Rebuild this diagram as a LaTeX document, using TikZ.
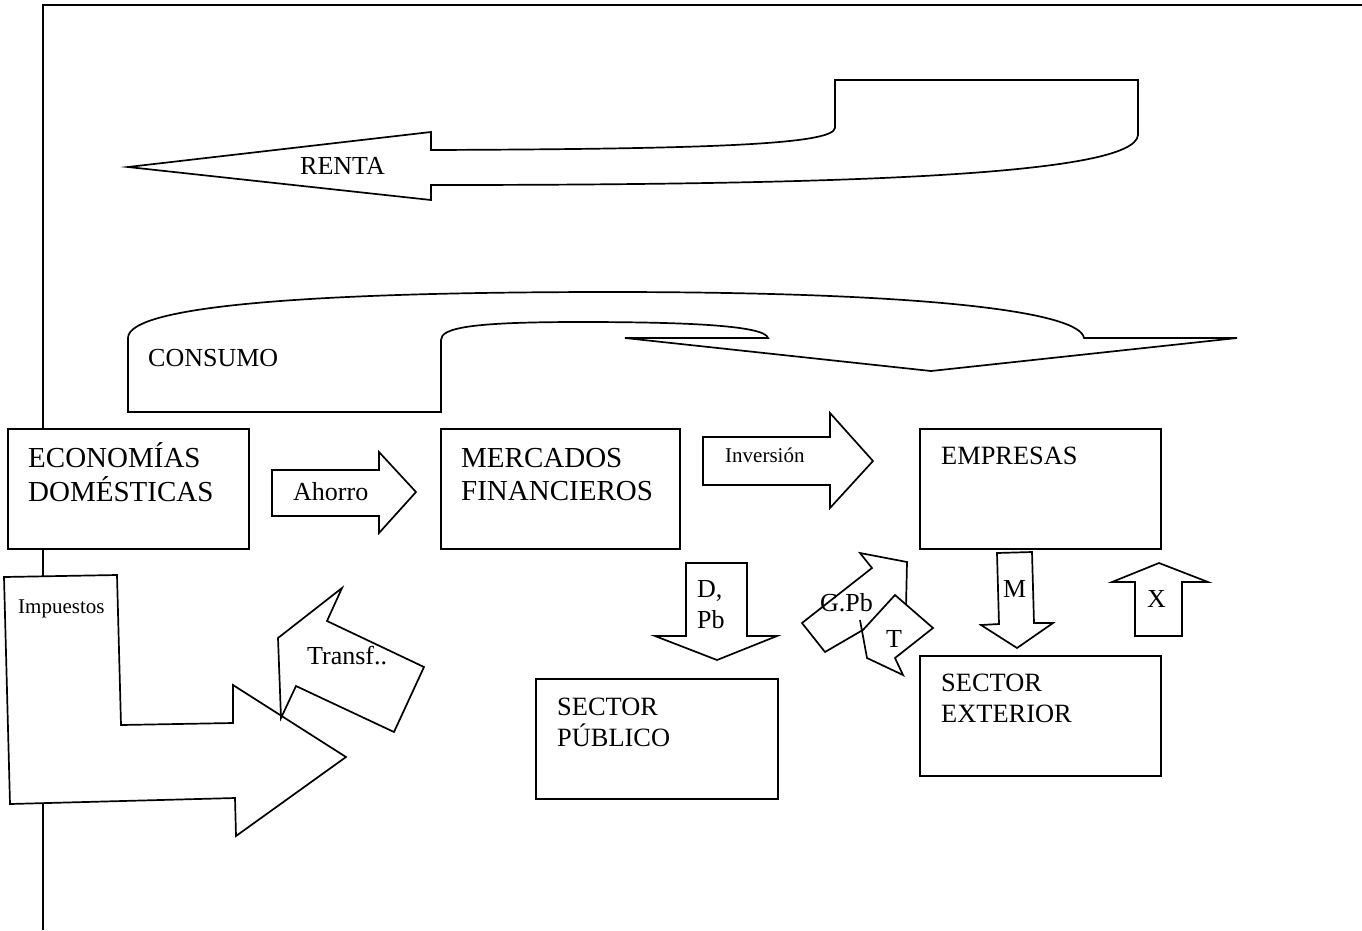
\documentclass[tikz,border=0pt]{standalone}
\usepackage{fontspec}
\setmainfont{Liberation Serif}
\begin{document}
\begin{tikzpicture}[x=1pt,y=-1pt, line join=miter,
  shp/.style={draw=black, fill=white, line width=1.7pt},
  boxx/.style={draw=black, fill=white, line width=1.7pt, rectangle, inner sep=0pt, anchor=north west},
  big/.style={font=\fontsize{29}{33}\selectfont, anchor=base west, inner sep=0pt},
  med/.style={font=\fontsize{26.4}{31}\selectfont, anchor=base west, inner sep=0pt},
  lab/.style={font=\fontsize{26}{31}\selectfont, anchor=base west, inner sep=0pt},
  sml/.style={font=\fontsize{21}{24}\selectfont, anchor=base west, inner sep=0pt}]
\useasboundingbox (0,0) rectangle (1362,930);
% frame
\coordinate (fr1) at (1362,5);
\coordinate (fr2) at (43,5);
\coordinate (fr3) at (43,930);
\draw[line width=2.2pt] (fr1) -- (fr2) -- (fr3);

% RENTA arrow
\draw[shp] (128,167) -- (431,132) -- (431,150) .. controls (700,149) and (833,145) .. (835,128) -- (835,80) -- (1138,80) -- (1138,135) .. controls (1135,175) and (850,185) .. (431,185) -- (431,200) -- cycle;
\node[lab] (renta) at (300,174) {RENTA};

% CONSUMO arrow
\draw[shp] (128,412) -- (128,338) .. controls (128,305) and (320,292) .. (610,292) .. controls (930,292) and (1080,312) .. (1084,338) -- (1237,338) -- (931,371) -- (625,338) -- (768,338) .. controls (765,325) and (680,322) .. (580,322) .. controls (470,322) and (441,328) .. (441,340) -- (441,412) -- cycle;
\node[lab] (consumo) at (148,366) {CONSUMO};

% boxes
\node[boxx, minimum width=241pt, minimum height=120pt] (econ) at (7,428) {};
\node[boxx, minimum width=239pt, minimum height=120pt] (merc) at (440,428) {};
\node[boxx, minimum width=241pt, minimum height=120pt] (empr) at (919,428) {};
\node[boxx, minimum width=241pt, minimum height=120pt] (sext) at (919,655) {};
\node[boxx, minimum width=242pt, minimum height=120pt] (spub) at (535,678) {};

\node[big] (econt) at (28,467) {\begin{tabular}[t]{@{}l@{}}ECONOMÍAS\\DOMÉSTICAS\end{tabular}};
\node[big] (merct) at (461,467) {\begin{tabular}[t]{@{}l@{}}MERCADOS\\FINANCIEROS\end{tabular}};
\node[med] (emprt) at (941,464) {EMPRESAS};
\node[med] (sextt) at (941,691) {\begin{tabular}[t]{@{}l@{}}SECTOR\\EXTERIOR\end{tabular}};
\node[med] (spubt) at (557,715) {\begin{tabular}[t]{@{}l@{}}SECTOR\\PÚBLICO\end{tabular}};

% Ahorro
\draw[shp] (272,470) -- (379,470) -- (379,452) -- (416,492) -- (379,533) -- (379,516) -- (272,516) -- cycle;
\node[lab] (ahorro) at (293,500) {Ahorro};

% Inversion
\draw[shp] (703,437) -- (830,437) -- (830,413) -- (873,461) -- (830,508) -- (830,485) -- (703,485) -- cycle;
\node[sml] (inv) at (725,462) {Inversión};

% D, Pb
\draw[shp] (686,563) -- (747,563) -- (747,636) -- (777,636) -- (717,660) -- (655,636) -- (686,636) -- cycle;
\node[lab] (dpb) at (697,597) {\begin{tabular}[t]{@{}l@{}}D,\\Pb\end{tabular}};

% M
\draw[shp] (997,553) -- (1032,552) -- (1034,623) -- (1053,623) -- (1017,648) -- (981,625) -- (999,624) -- cycle;
\node[lab] (m) at (1003,597) {M};

% X
\draw[shp] (1135,636) -- (1135,582) -- (1112,582) -- (1159,563) -- (1208,582) -- (1182,582) -- (1182,636) -- cycle;
\node[lab] (x) at (1147,607) {X};

% G.Pb
\draw[shp] (802,623) -- (872,568) -- (860,553) -- (907,562) -- (906,607) -- (880,620) -- (825,652) -- cycle;
\node[lab] (gpb) at (820,611) {G.Pb};

% T
\draw[shp] (867,658) -- (860,620) -- (862,631) -- (895,595) -- (933,628) -- (895,658) -- (903,675) -- cycle;
\node[lab] (t) at (886,647) {T};

% Impuestos
\draw[shp] (4,577) -- (117,575) -- (121,725) -- (233,723) -- (233,685) -- (346,757) -- (236,836) -- (235,798) -- (10,804) -- cycle;
\node[sml] (imp) at (18,613) {Impuestos};

% Transf
\draw[shp] (281,718) -- (278,638) -- (342,588) -- (327,621) -- (424,667) -- (394,732) -- (296,686) -- cycle;
\node[lab] (transf) at (307,664) {Transf..};
\end{tikzpicture}
\end{document}
